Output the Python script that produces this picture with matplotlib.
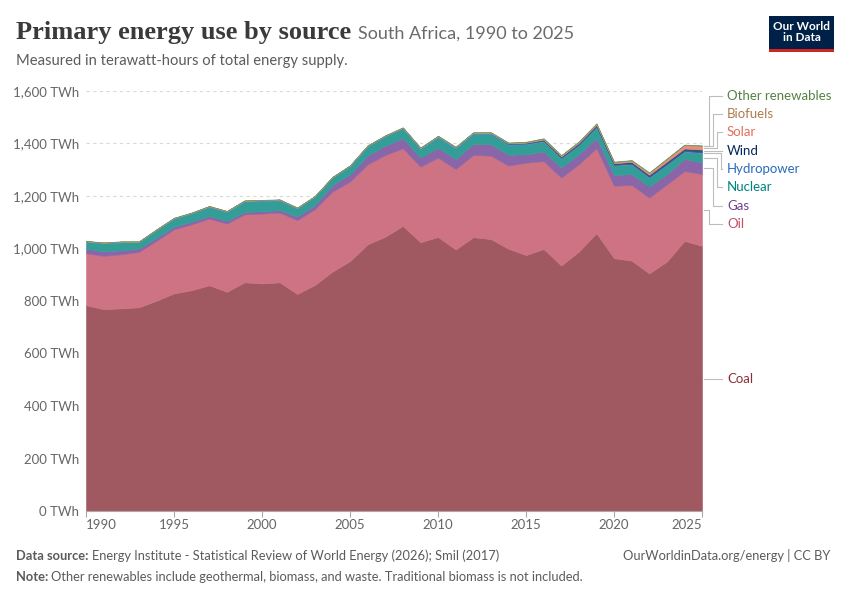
import matplotlib
matplotlib.use("Agg")
import matplotlib.pyplot as plt
from matplotlib.colors import to_rgb
from matplotlib.lines import Line2D
from matplotlib.patches import Rectangle
import numpy as np

plt.rcParams['font.family'] = ['Lato', 'DejaVu Sans']

years = list(range(1990, 2026))

# TWh
coal = [784, 769, 772, 776, 801, 829, 841, 860, 835, 871, 867, 871, 827, 861, 912, 952, 1016, 1045,
        1086, 1024, 1044, 996, 1043, 1036, 999, 975, 998, 935, 988, 1058, 963, 954, 905, 950, 1029, 1010]
oil = [198, 203, 206, 211, 228, 244, 251, 254, 260, 259, 266, 266, 281, 289, 305, 303, 305, 311,
       296, 288, 302, 307, 313, 318, 317, 352, 335, 335, 333, 324, 276, 288, 289, 294, 266, 274]
gas = [17, 17, 15, 13, 11, 10, 10, 10, 10, 9, 9, 9, 14, 15, 25, 28, 33, 36,
       38, 34, 38, 38, 42, 43, 41, 32, 36, 38, 38, 38, 41, 41, 42, 39, 46, 44]
nuclear = [26, 30, 30, 24, 30, 30, 31, 33, 33, 40, 38, 36, 30, 32, 28, 30, 34, 35,
           37, 33, 39, 40, 39, 40, 38, 38, 39, 35, 34, 42, 36, 37, 34, 36, 28, 36]
hydro = [3, 3, 3, 2, 2, 3, 3, 4, 4, 3, 4, 4, 3, 2, 2, 3, 4, 3,
         3, 4, 5, 5, 4, 4, 4, 3, 3, 3, 3, 3, 3, 3, 3, 3, 3, 3]
wind = [0, 0, 0, 0, 0, 0, 0, 0, 0, 0, 0, 0, 0, 0, 0, 0, 0, 0,
        0, 0, 0, 0, 0, 0.1, 2, 3, 4, 5, 6, 6, 6, 7, 8, 9, 9, 10]
solar = [0, 0, 0, 0, 0, 0, 0, 0, 0, 0, 0, 0, 0, 0, 0, 0, 0, 0,
         0, 0, 0, 0, 0.1, 0.3, 1, 2, 3, 3, 4, 4, 4, 5, 7, 10, 13, 14]
biofuels = [0, 0, 0, 0, 0, 0, 0, 0, 0, 0, 0, 0, 0, 0, 0, 0, 0, 0,
            0.3, 0.3, 0.3, 0.3, 0.3, 0.3, 0.3, 0.3, 0.3, 0.3, 0.3, 0.3, 0.3, 0.3, 0.3, 0.3, 0.3, 0.3]
other = [1.5, 1.5, 1.5, 1.5, 1.5, 1.5, 1.5, 1.5, 1.5, 1.5, 1.5, 1.5, 1.5, 1.5, 1.5, 1.5, 1.5, 1.5,
         1.8, 1.8, 1.8, 1.8, 1.8, 1.8, 1.8, 1.8, 1.8, 1.8, 1.8, 1.8, 1.8, 1.8, 1.8, 1.8, 1.8, 1.8]

names = ['Coal', 'Oil', 'Gas', 'Nuclear', 'Hydropower', 'Wind', 'Solar', 'Biofuels', 'Other renewables']
series = [coal, oil, gas, nuclear, hydro, wind, solar, biofuels, other]
colors = ['#883039', '#C15065', '#6D3E91', '#00847E', '#286BBB', '#00295B', '#E56E5A', '#BC8E5A', '#578145']

y_ticks = [0, 200, 400, 600, 800, 1000, 1200, 1400, 1600]
x_ticks = [1990, 1995, 2000, 2005, 2010, 2015, 2020, 2025]

W, H = 850, 600


def fx(px):
    return px / W


def fy(py):
    return 1 - py / H


def blend(c, a=0.8):
    r = np.array(to_rgb(c))
    return tuple(a * r + (1 - a))


fig = plt.figure(figsize=(8.5, 6), dpi=100)
ax = fig.add_axes([fx(86), fy(511), fx(702) - fx(86), fy(91) - fy(511)])

fills = [blend(c) for c in colors]
ax.stackplot(years, *series, colors=fills, linewidth=0.4, edgecolor='face')

ax.set_xlim(1990, 2025)
ax.set_ylim(0, 1600)
for v in y_ticks[1:]:
    ax.axhline(v, color='#d9d9d9', lw=0.8, dashes=(3, 3), zorder=0.5)
ax.set_axisbelow(False)

for s in ['top', 'right', 'left']:
    ax.spines[s].set_visible(False)
ax.spines['bottom'].set_color('#a8a8a8')
ax.spines['bottom'].set_linewidth(0.8)

ax.set_yticks(y_ticks)
ax.set_yticklabels([f"{v:,} TWh" for v in y_ticks])
ax.tick_params(axis='y', length=0, pad=5, labelsize=9.5, labelcolor='#666666')
ax.set_xticks(x_ticks)
ax.set_xticklabels([str(v) for v in x_ticks])
ax.tick_params(axis='x', length=4, width=0.8, color='#a8a8a8', pad=2, labelsize=9.5, labelcolor='#666666')
xl = ax.get_xticklabels()
xl[0].set_ha('left')
xl[-1].set_ha('right')

# labels on the right with connector lines
label_y = {'Other renewables': 96, 'Biofuels': 114, 'Solar': 132, 'Wind': 151, 'Hydropower': 169,
           'Nuclear': 187, 'Gas': 206, 'Oil': 224, 'Coal': 379}
bend_x = {'Other renewables': 709, 'Biofuels': 713, 'Solar': 717, 'Wind': None, 'Hydropower': 721,
          'Nuclear': 717, 'Gas': 713, 'Oil': 709, 'Coal': None}
text_colors = {'Coal': '#883039', 'Oil': '#C15065', 'Gas': '#6D3E91', 'Nuclear': '#00847E',
               'Hydropower': '#286BBB', 'Wind': '#00295B', 'Solar': '#E56E5A',
               'Biofuels': '#B07B4F', 'Other renewables': '#578145'}

fig.canvas.draw()
cum = 0
for name, s in zip(names, series):
    mid = cum + s[-1] / 2
    cum += s[-1]
    _, disp_y = ax.transData.transform((2025, mid))
    py = H - disp_y
    ly = label_y[name]
    bx = bend_x[name]
    lc = '#bdbdbd'
    if bx is None:
        xs = [fx(704), fx(722)]
        ys = [fy(ly), fy(ly)]
    else:
        xs = [fx(704), fx(bx), fx(bx), fx(722)]
        ys = [fy(py), fy(py), fy(ly), fy(ly)]
    fig.add_artist(Line2D(xs, ys, color=lc, lw=0.8))
    fig.text(fx(727), fy(ly), name, fontsize=9.5, color=text_colors[name], va='center', ha='left')

# header
fig.text(fx(16), fy(33), "Primary energy use by source", fontsize=19, family='Liberation Serif',
         color='#3a3a3a', va='center', ha='left', weight='bold')
fig.text(fx(358), fy(34), "South Africa, 1990 to 2025", fontsize=13, color='#6b6b6b',
         va='center', ha='left')
fig.text(fx(16), fy(61), "Measured in terawatt-hours of total energy supply.", fontsize=10.6,
         color='#5b5b5b', va='center', ha='left')

# logo
fig.add_artist(Rectangle((fx(769), fy(52)), fx(834) - fx(769), fy(16) - fy(52),
                         facecolor='#002147', edgecolor='none'))
fig.add_artist(Rectangle((fx(769), fy(52)), fx(834) - fx(769), fy(49) - fy(52),
                         facecolor='#CE261E', edgecolor='none'))
fig.text(fx(801.5), fy(32), "Our World\nin Data", fontsize=8.5, color='white', ha='center',
         va='center', weight='bold', linespacing=1.0)

# footer
fig.text(fx(16), fy(556), "Data source:", fontsize=9.3, color='#5b5b5b', weight='bold', va='center')
fig.text(fx(92), fy(556), "Energy Institute - Statistical Review of World Energy (2026); Smil (2017)",
         fontsize=9.3, color='#5b5b5b', va='center')
fig.text(fx(16), fy(577), "Note:", fontsize=9.3, color='#5b5b5b', weight='bold', va='center')
fig.text(fx(51), fy(577), "Other renewables include geothermal, biomass, and waste. Traditional biomass is not included.",
         fontsize=9.3, color='#5b5b5b', va='center')
fig.text(fx(830), fy(556), "OurWorldinData.org/energy | CC BY", fontsize=9.3, color='#5b5b5b',
         va='center', ha='right')

fig.savefig("out.png", dpi=100)
